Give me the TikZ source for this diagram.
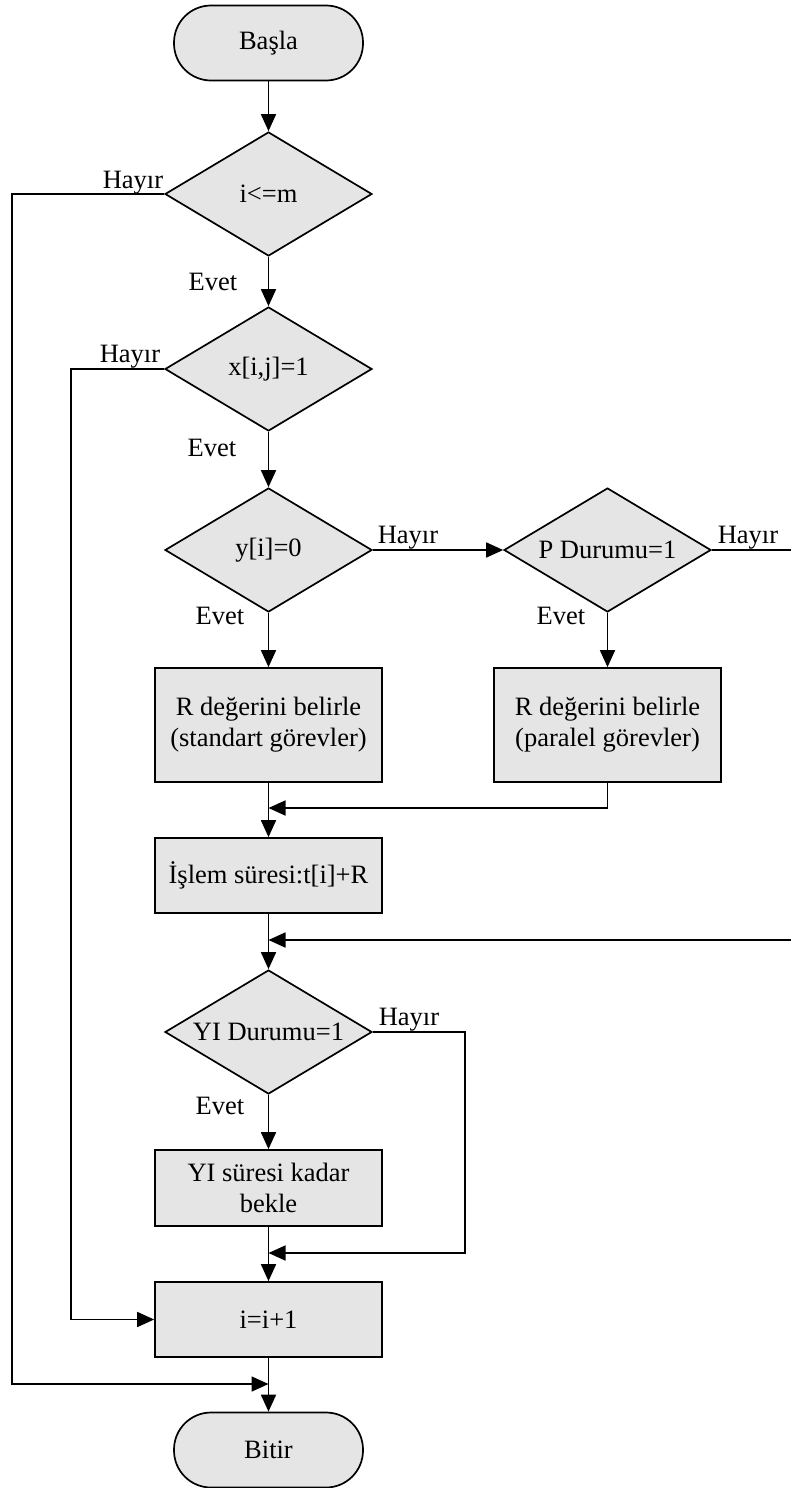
\documentclass[tikz,border=0pt]{standalone}
\usepackage{fontspec}
\setmainfont{Liberation Serif}
\usetikzlibrary{shapes.geometric,arrows.meta}
\begin{document}
\begin{tikzpicture}[x=1pt,y=-1pt,
  every node/.style={font=\fontsize{26.5}{31}\selectfont},
  flow/.style={line width=1.7pt},
  arr/.style={flow,-{Triangle[length=17pt,width=15pt]}},
  box/.style={draw,line width=1.7pt,fill=black!10,rectangle,inner sep=0pt,minimum width=227pt,align=center},
  term/.style={draw,line width=1.7pt,fill=black!10,rectangle,rounded corners=37pt,minimum width=189pt,minimum height=75pt,inner sep=0pt},
  dia/.style={draw,line width=1.7pt,fill=black!10,diamond,aspect=1.67,minimum width=207pt,minimum height=124pt,inner sep=0pt},
  lbl/.style={anchor=base,inner sep=0pt}]
\useasboundingbox (0,0) rectangle (791,1488);
\clip (0,0) rectangle (791,1488);
% nodes
\node[term] (start) at (268.5,43) {Başla};
\node[dia] (d1) at (268.5,194) {\makebox[0pt]{i<=m}};
\node[dia] (d2) at (268.5,369) {\makebox[0pt]{x[i,j]=1}};
\node[dia] (d3) at (268.5,550) {\makebox[0pt]{y[i]=0}};
\node[dia] (dp) at (607.5,550) {\makebox[0pt]{P Durumu=1}};
\node[box,minimum height=114pt] (r1) at (268.5,725) {R değerini belirle\\(standart görevler)};
\node[box,minimum height=114pt] (r2) at (607.5,725) {R değerini belirle\\(paralel görevler)};
\node[box,minimum height=75pt] (islem) at (268.5,875.5) {İşlem süresi:t[i]+R};
\node[dia] (d4) at (268.5,1032) {\makebox[0pt]{YI Durumu=1}};
\node[box,minimum height=76pt] (yi) at (268.5,1188) {YI süresi kadar\\bekle};
\node[box,minimum height=75pt] (inc) at (268.5,1319.5) {i=i+1};
\node[term] (end) at (268.5,1450) {Bitir};
% helper coordinates
\coordinate (j1) at (268.5,808);
\coordinate (j2) at (268.5,940);
\coordinate (j3) at (268.5,1253);
\coordinate (j4) at (268.5,1384);
\coordinate (rx) at (805,550);
\coordinate (ry) at (465,1032);
\coordinate (l1) at (12,194);
\coordinate (l2) at (71,369);
% connectors
\draw[arr] (start) -- (d1);
\draw[arr] (d1) -- (d2);
\draw[arr] (d2) -- (d3);
\draw[arr] (d3) -- (r1);
\draw[arr] (d3) -- (dp);
\draw[arr] (dp) -- (r2);
\draw[arr] (r1) -- (islem);
\draw[arr] (r2.south) |- (j1);
\draw[arr] (islem) -- (d4);
\draw[arr] (dp.east) -- (rx) |- (j2);
\draw[arr] (d4) -- (yi);
\draw[arr] (yi) -- (inc);
\draw[arr] (d4.east) -- (ry) |- (j3);
\draw[arr] (d2.west) -- (l2) |- (inc.west);
\draw[arr] (d1.west) -- (l1) |- (j4);
\draw[arr] (inc) -- (end);
% labels
\node[lbl] (h1) at (133,188) {Hayır};
\node[lbl] (e1) at (213,290) {Evet};
\node[lbl] (h2) at (130,362) {Hayır};
\node[lbl] (e2) at (212,456) {Evet};
\node[lbl] (h3) at (408,543) {Hayır};
\node[lbl] (e3) at (220,624) {Evet};
\node[lbl] (hp) at (748,543) {Hayır};
\node[lbl] (ep) at (561,624) {Evet};
\node[lbl] (h4) at (409,1025) {Hayır};
\node[lbl] (e4) at (220,1114) {Evet};
\end{tikzpicture}
\end{document}
